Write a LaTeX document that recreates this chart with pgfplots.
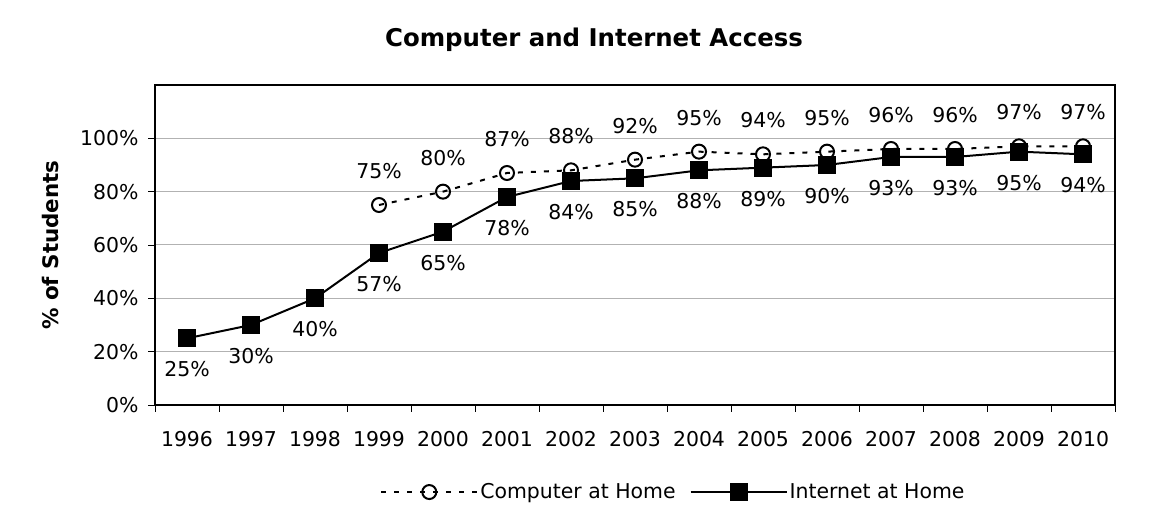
\documentclass[border=0pt]{standalone}
\usepackage{pgfplots}
\pgfplotsset{compat=1.18}
\usepackage{fontspec}
\setmainfont{DejaVu Sans}
\newcommand{\lblfont}{\fontsize{20.5}{24}\selectfont}
\begin{document}
\begin{tikzpicture}[x=1bp,y=1bp]
\useasboundingbox (0,0) rectangle (1169,514);
\begin{axis}[
  at={(155bp,109bp)}, anchor=south west,
  width=960bp, height=320bp, scale only axis,
  xmin=-0.5, xmax=14.5, ymin=0, ymax=120,
  xtick={0,...,14},
  xticklabels={1996,1997,1998,1999,2000,2001,2002,2003,2004,2005,2006,2007,2008,2009,2010},
  minor xtick={-0.5,0.5,...,14.5},
  major x tick style={draw=none},
  minor x tick style={black, line width=0.8bp},
  minor tick length=7bp,
  xtick pos=bottom, ytick pos=left,
  ytick={0,20,40,60,80,100},
  yticklabel={\pgfmathprintnumber{\tick}\%},
  major tick length=7bp,
  tick align=outside,
  y tick style={black, line width=0.8bp},
  ymajorgrids,
  grid style={gray!60, line width=1bp},
  axis line style={line width=2.2bp},
  tick label style={font=\lblfont},
  /pgf/number format/assume math mode=true,
  xticklabel style={yshift=-16bp},
  yticklabel style={xshift=-6bp},
  ylabel={\textbf{\% of Students}},
  ylabel style={font=\fontsize{21.5}{25}\selectfont, yshift=14bp},
  title={\textbf{Computer and Internet Access}},
  title style={font=\fontsize{24.5}{29}\selectfont, at={(axis description cs:0.5,1)}, anchor=center, yshift=39bp, xshift=-41bp},
  legend style={draw=none, at={(0.54,-0.272)}, anchor=center, legend columns=2,
    font=\lblfont, /tikz/every even column/.append style={column sep=12bp}},
  legend image code/.code={
    \draw[mark repeat=2, mark phase=2, #1] plot coordinates {(0bp,0bp) (48bp,0bp) (96bp,0bp)};
  },
  clip=false,
]
\addplot[black, line width=2bp, dash pattern=on 5bp off 8bp,
  mark=o, mark size=7bp, mark options={solid, line width=2bp, fill=white},
  nodes near coords={\pgfmathprintnumber{\pgfplotspointmeta}\%},
  every node near coord/.append style={font=\lblfont, anchor=center, yshift=34bp},
  point meta=y]
  coordinates {(3,75) (4,80) (5,87) (6,88) (7,92) (8,95) (9,94) (10,95) (11,96) (12,96) (13,97) (14,97)};
\addlegendentry{Computer at Home}
\addplot[black, line width=2bp, solid,
  mark=square*, mark size=8bp, mark options={solid},
  nodes near coords={\pgfmathprintnumber{\pgfplotspointmeta}\%},
  every node near coord/.append style={font=\lblfont, anchor=center, yshift=-31bp},
  point meta=y]
  coordinates {(0,25) (1,30) (2,40) (3,57) (4,65) (5,78) (6,84) (7,85) (8,88) (9,89) (10,90) (11,93) (12,93) (13,95) (14,94)};
\addlegendentry{Internet at Home}
\end{axis}
\end{tikzpicture}
\end{document}
